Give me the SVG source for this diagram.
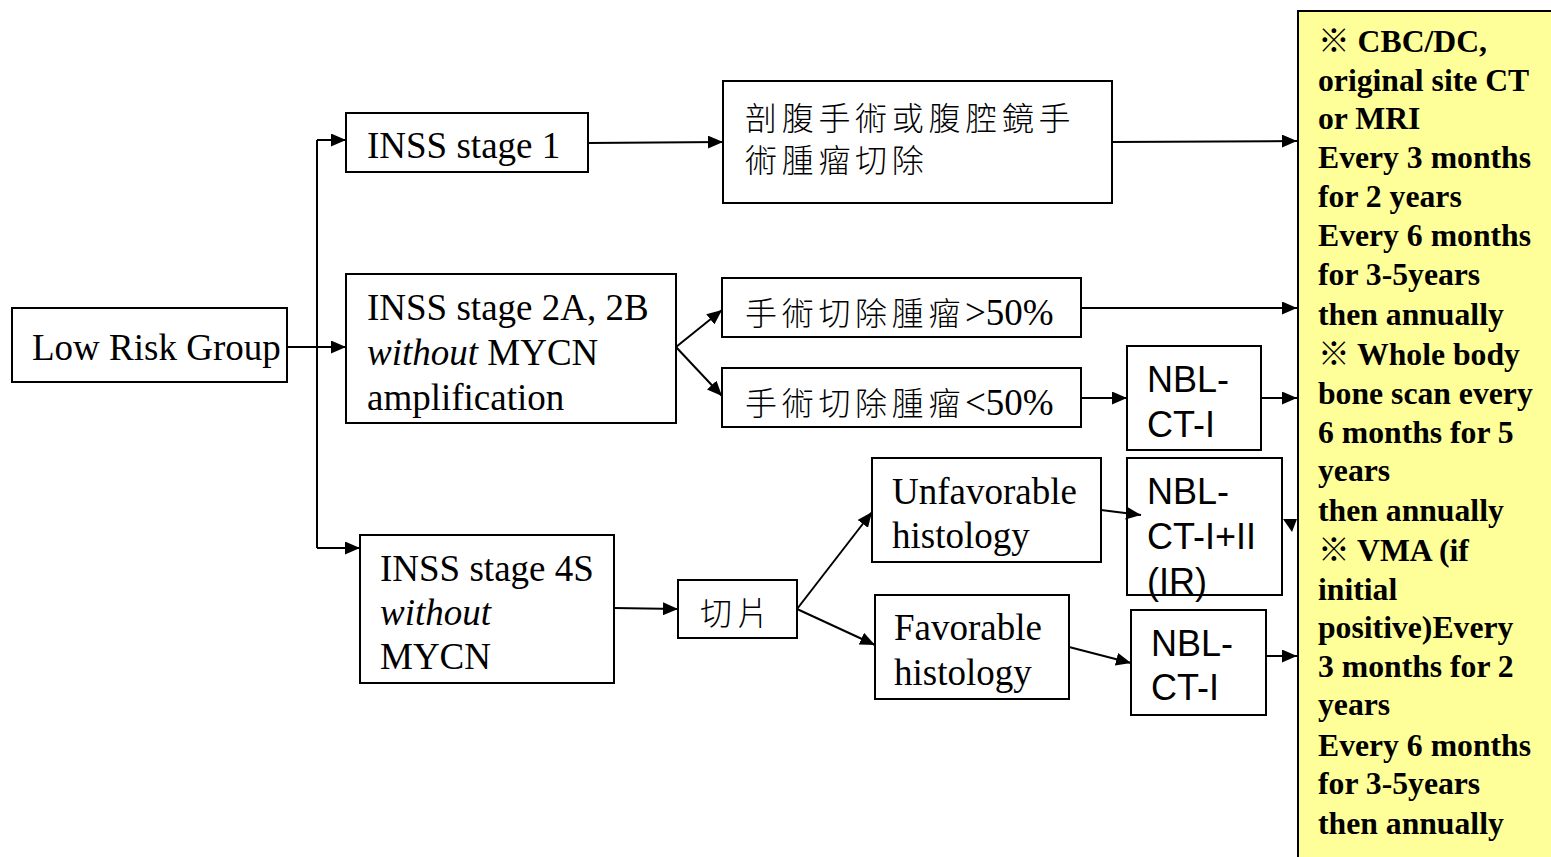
<svg xmlns="http://www.w3.org/2000/svg" width="1551" height="857" viewBox="0 0 1551 857">
<style>
.box{fill:#fff;stroke:#000;stroke-width:2}
.t{font-family:"Liberation Serif","Noto Sans CJK TC",serif;font-size:37px;fill:#000}
.cjk{font-family:"Noto Sans CJK TC",sans-serif;font-size:32px;fill:#000;letter-spacing:4.7px;font-weight:300}
.a{font-family:"Liberation Sans",Arial,sans-serif;font-size:36px;fill:#000}
.y{font-family:"Liberation Serif","Noto Sans CJK TC",serif;font-size:31.7px;font-weight:bold;fill:#000}
.c{fill:none;stroke:#000;stroke-width:2}
</style>
<defs>
<marker id="ar" markerUnits="userSpaceOnUse" markerWidth="15" markerHeight="13" refX="15" refY="6.5" orient="auto">
<path d="M0,0 L15,6.5 L0,13 z" fill="#000"/>
</marker>
</defs>
<rect width="1551" height="857" fill="#fff"/>

<g id="followup">
<rect x="1298" y="11" width="262" height="860" fill="#ffff99" stroke="#000" stroke-width="2"/>
<text class="y" x="1318">
<tspan x="1318" y="52">※ CBC/DC,</tspan>
<tspan x="1318" y="91">original site CT</tspan>
<tspan x="1318" y="129">or MRI</tspan>
<tspan x="1318" y="168">Every 3 months</tspan>
<tspan x="1318" y="207">for 2 years</tspan>
<tspan x="1318" y="246">Every 6 months</tspan>
<tspan x="1318" y="285">for 3-5years</tspan>
<tspan x="1318" y="325">then annually</tspan>
<tspan x="1318" y="365">※ Whole body</tspan>
<tspan x="1318" y="404">bone scan every</tspan>
<tspan x="1318" y="443">6 months for 5</tspan>
<tspan x="1318" y="481">years</tspan>
<tspan x="1318" y="521">then annually</tspan>
<tspan x="1318" y="561">※ VMA (if</tspan>
<tspan x="1318" y="600">initial</tspan>
<tspan x="1318" y="638">positive)Every</tspan>
<tspan x="1318" y="677">3 months for 2</tspan>
<tspan x="1318" y="715">years</tspan>
<tspan x="1318" y="756">Every 6 months</tspan>
<tspan x="1318" y="794">for 3-5years</tspan>
<tspan x="1318" y="834">then annually</tspan>
</text>
</g>

<g id="low-risk">
<rect class="box" x="12" y="308" width="275" height="74"/>
<text class="t" x="32" y="360">Low Risk Group</text>
</g>

<g id="stage1">
<rect class="box" x="346" y="113" width="242" height="59"/>
<text class="t" x="367" y="158">INSS stage 1</text>
</g>

<g id="stage2">
<rect class="box" x="346" y="274" width="330" height="149"/>
<text class="t" x="367" y="320">INSS stage 2A, 2B</text>
<text class="t" x="367" y="365"><tspan font-style="italic">without</tspan> MYCN</text>
<text class="t" x="367" y="410">amplification</text>
</g>

<g id="stage4s">
<rect class="box" x="360" y="535" width="254" height="148"/>
<text class="t" x="380" y="581">INSS stage 4S</text>
<text class="t" x="380" y="625" font-style="italic">without</text>
<text class="t" x="380" y="669">MYCN</text>
</g>

<g id="surgery">
<rect class="box" x="723" y="81" width="389" height="122"/>
<text class="cjk" x="745" y="130">剖腹手術或腹腔鏡手</text>
<text class="cjk" x="745" y="172">術腫瘤切除</text>
</g>

<g id="gt50">
<rect class="box" x="722" y="278" width="359" height="59"/>
<text class="cjk" x="745" y="325">手術切除腫瘤</text>
<text class="t" x="965" y="325" font-family="Liberation Serif, serif">&gt;50%</text>
</g>

<g id="lt50">
<rect class="box" x="722" y="368" width="359" height="59"/>
<text class="cjk" x="745" y="415">手術切除腫瘤</text>
<text class="t" x="965" y="415" font-family="Liberation Serif, serif">&lt;50%</text>
</g>

<g id="nbl1">
<rect class="box" x="1127" y="346" width="134" height="104"/>
<text class="a" x="1147" y="392">NBL-</text>
<text class="a" x="1147" y="437">CT-I</text>
</g>

<g id="biopsy">
<rect class="box" x="678" y="580" width="119" height="58"/>
<text class="cjk" x="700" y="625">切片</text>
</g>

<g id="unfav">
<rect class="box" x="872" y="458" width="229" height="104"/>
<text class="t" x="892" y="504">Unfavorable</text>
<text class="t" x="892" y="548">histology</text>
</g>

<g id="nbl12">
<rect class="box" x="1127" y="458" width="155" height="137"/>
<text class="a" x="1147" y="504">NBL-</text>
<text class="a" x="1147" y="549">CT-I+II</text>
<text class="a" x="1147" y="594">(IR)</text>
</g>

<g id="fav">
<rect class="box" x="875" y="595" width="194" height="104"/>
<text class="t" x="894" y="640">Favorable</text>
<text class="t" x="894" y="685">histology</text>
</g>

<g id="nbl2">
<rect class="box" x="1131" y="610" width="135" height="105"/>
<text class="a" x="1151" y="656">NBL-</text>
<text class="a" x="1151" y="700">CT-I</text>
</g>

<g id="connectors">
<path class="c" d="M287,347 H317 M317,140 V548"/>
<path class="c" d="M317,140 H346" marker-end="url(#ar)"/>
<path class="c" d="M317,347 H346" marker-end="url(#ar)"/>
<path class="c" d="M317,548 H360" marker-end="url(#ar)"/>
<path class="c" d="M588,143 L723,142" marker-end="url(#ar)"/>
<path class="c" d="M1112,142 L1297,141" marker-end="url(#ar)"/>
<path class="c" d="M676,347 L722,310" marker-end="url(#ar)"/>
<path class="c" d="M676,347 L722,396" marker-end="url(#ar)"/>
<path class="c" d="M1081,308 L1297,308" marker-end="url(#ar)"/>
<path class="c" d="M1081,398 L1127,398" marker-end="url(#ar)"/>
<path class="c" d="M1261,398 L1297,398" marker-end="url(#ar)"/>
<path class="c" d="M614,608 L678,609" marker-end="url(#ar)"/>
<path class="c" d="M797,609 L872,512" marker-end="url(#ar)"/>
<path class="c" d="M797,609 L875,645" marker-end="url(#ar)"/>
<path class="c" d="M1101,510 L1141,515" marker-end="url(#ar)"/>
<path class="c" d="M1069,647 L1131,663" marker-end="url(#ar)"/>
<path class="c" d="M1266,656 L1297,656" marker-end="url(#ar)"/>
<path d="M1283,519 L1297,519 L1292,532 z" fill="#000"/>
</g>
</svg>
